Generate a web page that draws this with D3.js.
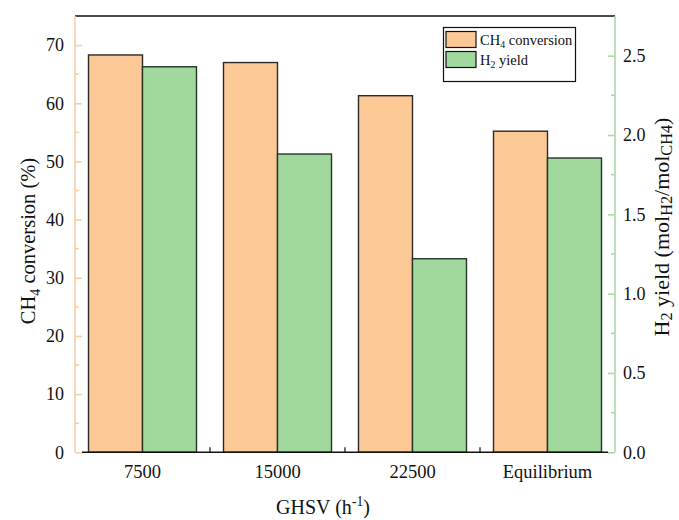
<!DOCTYPE html>
<html>
<head>
<meta charset="utf-8">
<script src="https://cdn.jsdelivr.net/npm/d3@7"></script>
<style>
  html, body { margin: 0; padding: 0; background: #fff; }
  svg { display: block; }
  svg text { font-family: "Liberation Serif", "Times New Roman", serif; }
</style>
</head>
<body>
<svg id="chart" width="679" height="520"></svg>
<script>
// GHSV categories and the two measured series
const categories = ["7500", "15000", "22500", "Equilibrium"];
const ch4Conversion = [68.3, 67.0, 61.3, 55.2];   // %
const h2Yield = [2.43, 1.88, 1.22, 1.855];         // mol H2 / mol CH4
const leftTicks = [0, 10, 20, 30, 40, 50, 60, 70];
const rightTicks = [0, 0.5, 1.0, 1.5, 2.0, 2.5];

const orange = "#fcc896";
const green = "#a0d89e";
const orangeAxis = "#fbcfa6";
const greenAxis = "#a8dba6";
const FONT = "Liberation Serif";

const svg = d3.select("#chart");
const m = { left: 75, right: 615, top: 16, bottom: 452.3 };

const x = d3.scaleBand().domain(categories).range([m.left, m.right]).paddingInner(0.2).paddingOuter(0.1);
const sub = d3.scaleBand().domain(["ch4", "h2"]).range([0, x.bandwidth()]);
const yL = d3.scaleLinear().domain([0, 75]).range([m.bottom, m.top]);
const yR = d3.scaleLinear().domain([0, 2.75]).range([m.bottom, m.top]);

// bars
const g = svg.append("g");
g.selectAll("rect.ch4").data(categories).join("rect")
  .attr("class", "ch4")
  .attr("x", d => x(d) + sub("ch4"))
  .attr("y", (d, i) => yL(ch4Conversion[i]))
  .attr("width", sub.bandwidth())
  .attr("height", (d, i) => yL(0) - yL(ch4Conversion[i]))
  .attr("fill", orange).attr("stroke", "#2a2a2a").attr("stroke-width", 1.4);
g.selectAll("rect.h2").data(categories).join("rect")
  .attr("class", "h2")
  .attr("x", d => x(d) + sub("h2"))
  .attr("y", (d, i) => yR(h2Yield[i]))
  .attr("width", sub.bandwidth())
  .attr("height", (d, i) => yR(0) - yR(h2Yield[i]))
  .attr("fill", green).attr("stroke", "#2a352a").attr("stroke-width", 1.4);

// top frame line
svg.append("line").attr("x1", m.left).attr("x2", m.right).attr("y1", m.top).attr("y2", m.top)
  .attr("stroke", "#111").attr("stroke-width", 1.6);

// bottom axis: black baseline with separators between groups
svg.append("line").attr("x1", m.left + 7).attr("x2", m.right - 7).attr("y1", m.bottom).attr("y2", m.bottom)
  .attr("stroke", "#111").attr("stroke-width", 1.6);
const seps = categories.slice(1).map(c => x(c) - x.step() * x.paddingInner() / 2);
svg.selectAll("line.sep").data(seps).join("line").attr("class", "sep")
  .attr("x1", d => d).attr("x2", d => d).attr("y1", m.bottom).attr("y2", m.bottom - 5)
  .attr("stroke", "#111").attr("stroke-width", 1.2);
svg.selectAll("text.cat").data(categories).join("text").attr("class", "cat")
  .attr("x", d => x(d) + x.bandwidth() / 2).attr("y", 478)
  .attr("text-anchor", "middle").attr("font-family", FONT).attr("font-size", 18.5).attr("fill", "#111").text(d => d);

// left axis (orange)
const leftAxis = d3.axisLeft(yL).tickValues(leftTicks).tickSize(-7).tickPadding(11).tickFormat(d3.format("d"));
const gl = svg.append("g").attr("transform", `translate(${m.left},0)`).call(leftAxis)
  .attr("font-family", FONT);
gl.select(".domain").attr("stroke", orangeAxis).attr("stroke-width", 1.6).attr("d", `M0,${m.top}V${m.bottom}`);
gl.selectAll(".tick line").attr("stroke", orangeAxis).attr("stroke-width", 1.6);
gl.selectAll(".tick text").attr("font-size", 18).attr("fill", "#111");
gl.selectAll("line.minor").data(d3.range(5, 75, 10)).join("line").attr("class", "minor")
  .attr("x1", 0).attr("x2", 4).attr("y1", d => yL(d)).attr("y2", d => yL(d))
  .attr("stroke", orangeAxis).attr("stroke-width", 1.6);

// right axis (green)
const rightAxis = d3.axisRight(yR).tickValues(rightTicks).tickSize(-7).tickPadding(8).tickFormat(d3.format(".1f"));
const gr = svg.append("g").attr("transform", `translate(${m.right},0)`).call(rightAxis)
  .attr("font-family", FONT);
gr.select(".domain").attr("stroke", greenAxis).attr("stroke-width", 1.6).attr("d", `M0,${m.top}V${m.bottom}`);
gr.selectAll(".tick line").attr("stroke", greenAxis).attr("stroke-width", 1.6);
gr.selectAll(".tick text").attr("font-size", 18).attr("fill", "#111");
gr.selectAll("line.minor").data(d3.range(0.25, 2.75, 0.5)).join("line").attr("class", "minor")
  .attr("x1", 0).attr("x2", -4).attr("y1", d => yR(d)).attr("y2", d => yR(d))
  .attr("stroke", greenAxis).attr("stroke-width", 1.6);

// text with sub/superscript parts; baseline restored after each shifted part
function richText(sel, parts, size, subScale = 0.68, subShift = 0.22) {
  let shift = 0;
  parts.forEach(([t, isSub, isSup]) => {
    const ts = sel.append("tspan").text(t);
    let target = 0;
    if (isSub) { ts.attr("font-size", size * subScale); target = size * subShift; }
    if (isSup) { ts.attr("font-size", size * 0.68); target = -size * 0.38; }
    if (target !== shift) ts.attr("dy", target - shift);
    shift = target;
  });
}

const tl = svg.append("text").attr("transform", "translate(35,241) rotate(-90)")
  .attr("text-anchor", "middle").attr("font-family", FONT).attr("font-size", 20.5).attr("fill", "#111");
richText(tl, [["CH"], ["4", true], [" conversion (%)"]], 20.5);

const tr = svg.append("text").attr("transform", "translate(669,227) rotate(-90)")
  .attr("text-anchor", "middle").attr("font-family", FONT).attr("font-size", 22).attr("fill", "#111");
richText(tr, [["H"], ["2", true], [" yield (mol"], ["H2", true], ["/mol"], ["CH4", true], [")"]], 22, 0.74, 0.15);

const tb = svg.append("text").attr("x", 323).attr("y", 514)
  .attr("text-anchor", "middle").attr("font-family", FONT).attr("font-size", 20).attr("fill", "#111");
richText(tb, [["GHSV (h"], ["-1", false, true], [")"]], 20);

// legend
const lg = svg.append("g");
lg.append("rect").attr("x", 443.5).attr("y", 27.5).attr("width", 132).attr("height", 54)
  .attr("fill", "#fff").attr("stroke", "#111").attr("stroke-width", 1.2);
const legendItems = [
  { color: orange, parts: [["CH"], ["4", true], [" conversion"]] },
  { color: green, parts: [["H"], ["2", true], [" yield"]] }
];
legendItems.forEach((it, i) => {
  const yy = 31.5 + i * 20;
  lg.append("rect").attr("x", 446).attr("y", yy).attr("width", 30).attr("height", 16)
    .attr("fill", it.color).attr("stroke", "#111").attr("stroke-width", 1.2);
  const t = lg.append("text").attr("x", 480).attr("y", yy + 13)
    .attr("font-family", FONT).attr("font-size", 14.5).attr("fill", "#111");
  richText(t, it.parts, 14.5);
});
</script>
</body>
</html>
